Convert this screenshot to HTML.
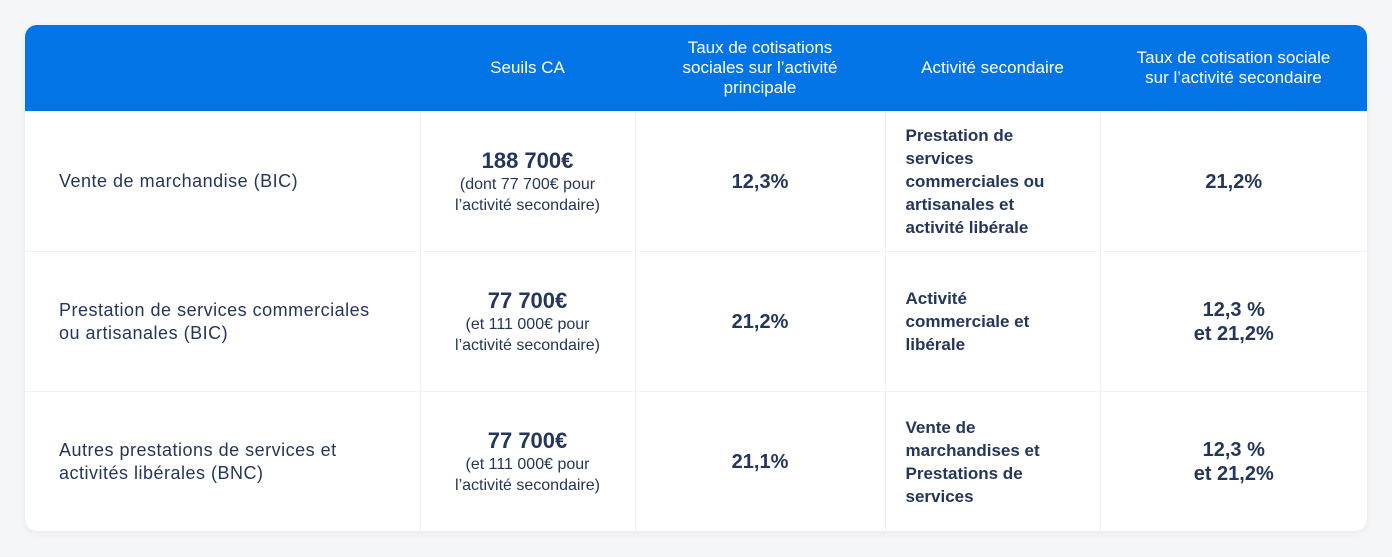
<!DOCTYPE html>
<html><head><meta charset="utf-8"><style>
body{margin:0;width:1392px;height:557px;background:#f5f6f8;font-family:"Liberation Sans",sans-serif;color:#24365c;position:relative;overflow:hidden}
.card{position:absolute;left:25px;top:25px;width:1342px;height:506px;background:#fff;border-radius:12px;overflow:hidden;box-shadow:0 2px 8px rgba(0,0,0,.06)}
table{border-collapse:collapse;width:1342px;table-layout:fixed}
th{background:#0274e6;color:#fff;font-weight:normal;font-size:17px;line-height:20px;height:86px;padding:0 8px;text-align:center}
td{border:1px solid #f1f2f7;text-align:center;font-size:16px;line-height:21px;padding:0 10px}
tr.r td{height:139px}
td.l{text-align:left;padding-left:34px;padding-right:4px;font-size:18px;line-height:23px;letter-spacing:0.5px}
td.b{font-weight:bold;font-size:20px;line-height:24px}
td.s{text-align:left;font-weight:bold;font-size:17px;line-height:23px;padding-left:20px;padding-right:10px}
.big{font-weight:bold;font-size:22px;line-height:26px}
tr td:first-child{border-left:none}tr td:last-child{border-right:none}
tr:last-child td{border-bottom:none}
</style></head><body><div class="card"><table>
<colgroup><col style="width:395px"><col style="width:215px"><col style="width:250px"><col style="width:215px"><col style="width:267px"></colgroup>
<tr><th></th><th>Seuils CA</th><th>Taux de cotisations<br>sociales sur l’activité<br>principale</th><th>Activité secondaire</th><th>Taux de cotisation sociale<br>sur l’activité secondaire</th></tr>
<tr class="r"><td class="l">Vente de marchandise (BIC)</td><td><div class="big">188 700€</div>(dont 77 700€ pour<br>l’activité secondaire)</td><td class="b">12,3%</td><td class="s">Prestation de<br>services<br>commerciales ou<br>artisanales et<br>activité libérale</td><td class="b">21,2%</td></tr>
<tr class="r"><td class="l">Prestation de services commerciales<br>ou artisanales (BIC)</td><td><div class="big">77 700€</div>(et 111 000€ pour<br>l’activité secondaire)</td><td class="b">21,2%</td><td class="s">Activité<br>commerciale et<br>libérale</td><td class="b">12,3 %<br>et 21,2%</td></tr>
<tr class="r"><td class="l">Autres prestations de services et<br>activités libérales (BNC)</td><td><div class="big">77 700€</div>(et 111 000€ pour<br>l’activité secondaire)</td><td class="b">21,1%</td><td class="s">Vente de<br>marchandises et<br>Prestations de<br>services</td><td class="b">12,3 %<br>et 21,2%</td></tr>
</table></div></body></html>
